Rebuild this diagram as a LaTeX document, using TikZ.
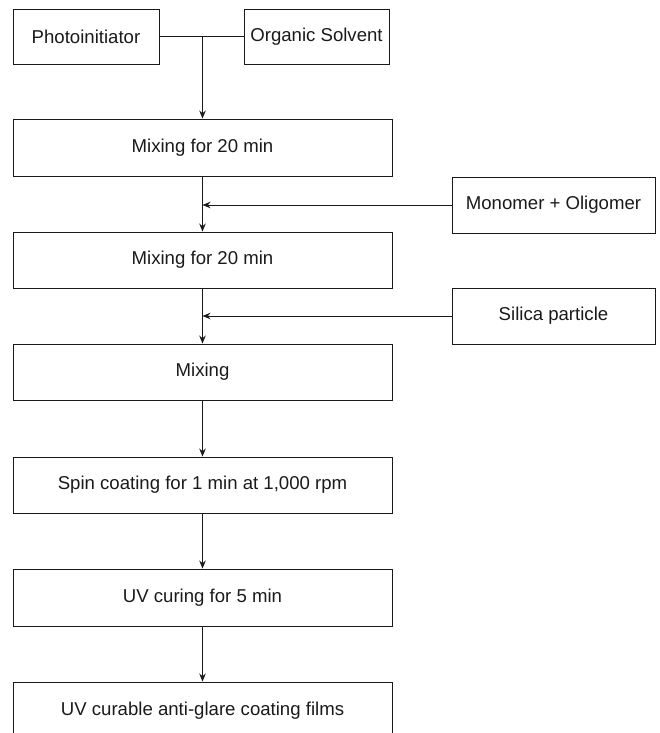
\documentclass[tikz,border=0pt]{standalone}
\usepackage{fontspec}
\setmainfont{Liberation Sans}
\usetikzlibrary{arrows.meta}
\definecolor{ink}{HTML}{1A1A1A}
\begin{document}
\begin{tikzpicture}[x=1pt,y=-1pt,
  box/.style={draw=ink, line width=0.9pt, inner sep=0pt, text=ink,
    font=\fontsize{18.6}{20}\selectfont},
  flow/.style={draw=ink, line width=0.9pt, -{Stealth[length=8pt,width=6.5pt]}},
  link/.style={draw=ink, line width=0.9pt}]
\useasboundingbox (0,0) rectangle (659,733);
\node[box, minimum width=146pt, minimum height=55pt] (photo) at (86,36.5) {Photoinitiator};
\node[box, minimum width=145pt, minimum height=55pt] (solv) at (316.5,36.5) {Organic Solvent};
\node[box, minimum width=379pt, minimum height=57pt] (mix1) at (202.5,147.5) {Mixing for 20 min};
\node[box, minimum width=203pt, minimum height=56pt] (mono) at (553.5,205) {Monomer + Oligomer};
\node[box, minimum width=379pt, minimum height=56pt] (mix2) at (202.5,260) {Mixing for 20 min};
\node[box, minimum width=203pt, minimum height=56pt] (sil) at (553.5,316) {Silica particle};
\node[box, minimum width=379pt, minimum height=56pt] (mix3) at (202.5,372) {Mixing};
\node[box, minimum width=379pt, minimum height=56pt] (spin) at (202.5,485) {Spin coating for 1 min at 1,000 rpm};
\node[box, minimum width=379pt, minimum height=57pt] (uv) at (202.5,597.5) {UV curing for 5 min};
\node[box, minimum width=379pt, minimum height=57pt] (final) at (202.5,710.5) {UV curable anti-glare coating films};
\coordinate (j0) at (mix1.north |- photo.east);
\coordinate (j1) at (mix1.south |- mono.west);
\coordinate (j2) at (mix2.south |- sil.west);
\draw[link] (photo.east) -- (solv.west);
\draw[flow] (j0) -- (mix1.north);
\draw[flow] (mix1.south) -- (mix2.north);
\draw[flow] (mono.west) -- (j1);
\draw[flow] (mix2.south) -- (mix3.north);
\draw[flow] (sil.west) -- (j2);
\draw[flow] (mix3.south) -- (spin.north);
\draw[flow] (spin.south) -- (uv.north);
\draw[flow] (uv.south) -- (final.north);
\end{tikzpicture}
\end{document}
